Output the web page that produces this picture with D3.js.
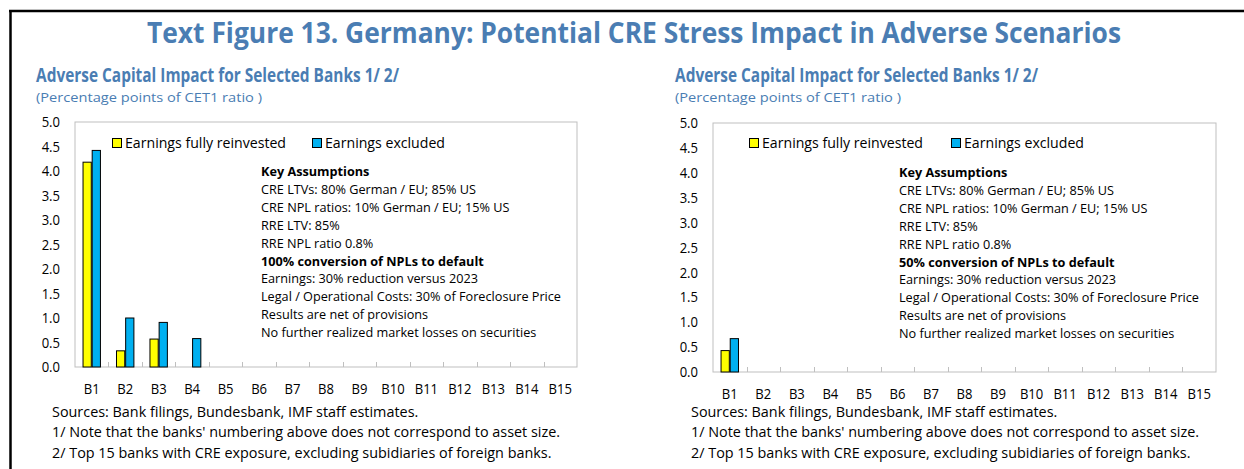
<!doctype html>
<html lang="en-US">
<head>
<meta charset="UTF-8">
<title>Text Figure 13</title>
<script src="https://cdn.jsdelivr.net/npm/d3@7"></script>
<style>
  body { margin:0; background:#fff; }
  svg text { font-family:"Open Sans", "Noto Sans", sans-serif; }
</style>
</head>
<body>
<div id="viz"></div>
<script type="text/javascript">

// data
var banks = ["B1","B2","B3","B4","B5","B6","B7","B8","B9","B10","B11","B12","B13","B14","B15"];
var seriesNames = ["Earnings fully reinvested", "Earnings excluded"];
var reinvested100 = [4.18, 0.33, 0.57, 0, 0, 0, 0, 0, 0, 0, 0, 0, 0, 0, 0];
var excluded100   = [4.42, 1.00, 0.91, 0.58, 0, 0, 0, 0, 0, 0, 0, 0, 0, 0, 0];
var reinvested50  = [0.43, 0, 0, 0, 0, 0, 0, 0, 0, 0, 0, 0, 0, 0, 0];
var excluded50    = [0.67, 0, 0, 0, 0, 0, 0, 0, 0, 0, 0, 0, 0, 0, 0];
var yTicks = [0, 0.5, 1, 1.5, 2, 2.5, 3, 3.5, 4, 4.5, 5];

var title = "Text Figure 13. Germany: Potential CRE Stress Impact in Adverse Scenarios";
var subTitle = "Adverse Capital Impact for Selected Banks 1/ 2/";
var unitText = "(Percentage points of CET1 ratio )";
var notes = ["Sources: Bank filings, Bundesbank, IMF staff estimates.",
  "1/ Note that the banks' numbering above does not correspond to asset size.",
  "2/ Top 15 banks with CRE exposure, excluding subidiaries of foreign banks."];
var assumptions100 = ["Key Assumptions", "CRE LTVs: 80% German / EU; 85% US",
  "CRE NPL ratios: 10% German / EU; 15% US", "RRE LTV: 85%", "RRE NPL ratio 0.8%",
  "100% conversion of NPLs to default", "Earnings: 30% reduction versus 2023",
  "Legal / Operational Costs: 30% of Foreclosure Price", "Results are net of provisions",
  "No further realized market losses on securities"];
var assumptions50 = assumptions100.slice();
assumptions50[5] = "50% conversion of NPLs to default";
var boldLines = [0, 5];

var blue = "#4a7db3";
var colors = ["#ffff00", "#00b0f0"];

var W = 1244, H = 469;
var svg = d3.select("#viz").append("svg").attr("width", W).attr("height", H);

// squeeze text horizontally so it takes the width Segoe would
function fitTo(sel, w) {
  sel.attr("textLength", w).attr("lengthAdjust", "spacingAndGlyphs");
}
function condense(sel, k) {
  sel.each(function() {
    var t = d3.select(this);
    t.attr("textLength", this.getComputedTextLength() * k).attr("lengthAdjust", "spacingAndGlyphs");
  });
}

// frame
svg.append("line").attr("x1", 9).attr("x2", W).attr("y1", 11).attr("y2", 11)
  .attr("stroke", "#000").attr("stroke-width", 2.5);
svg.append("line").attr("x1", 10.5).attr("x2", 10.5).attr("y1", 10).attr("y2", H)
  .attr("stroke", "#000").attr("stroke-width", 2.5);

var t = svg.append("text").attr("x", 147).attr("y", 43)
  .attr("font-size", 29).attr("font-weight", 700).attr("fill", blue).text(title);
fitTo(t, 974);

var panels = [
  { left: 75, right: 577, top: 122, bottom: 367, subX: 36, legY: 138, legX: [112, 312],
    keyX: 261, keyY: 176, noteX: 52, data: [reinvested100, excluded100], lines: assumptions100 },
  { left: 713, right: 1216, top: 123, bottom: 372, subX: 675, legY: 138, legX: [749, 951],
    keyX: 899, keyY: 177, noteX: 691, data: [reinvested50, excluded50], lines: assumptions50 }
];

panels.forEach(function(p) {
  var g = svg.append("g");

  var st = g.append("text").attr("x", p.subX).attr("y", 82)
    .attr("font-size", 19.5).attr("font-weight", 700).attr("fill", blue).text(subTitle);
  fitTo(st, 363);
  var ut = g.append("text").attr("x", p.subX).attr("y", 102)
    .attr("font-size", 13.5).attr("fill", blue).text(unitText);
  fitTo(ut, 226);

  var x = d3.scaleBand().domain(banks).range([p.left, p.right]).padding(0);
  var xs = d3.scaleBand().domain(seriesNames)
    .range([x.bandwidth() * 0.24, x.bandwidth() * 0.76]).paddingInner(0.1);
  var y = d3.scaleLinear().domain([0, 5]).range([p.bottom, p.top]);

  // plot frame
  g.append("rect").attr("x", p.left).attr("y", p.top)
    .attr("width", p.right - p.left).attr("height", p.bottom - p.top)
    .attr("fill", "none").attr("stroke", "#bfbfbf").attr("stroke-width", 1);

  // small ticks between banks
  g.selectAll("line.sep").data(banks.slice(1)).enter().append("line")
    .attr("class", "sep")
    .attr("x1", function(d) { return Math.round(x(d)) + 0.5; })
    .attr("x2", function(d) { return Math.round(x(d)) + 0.5; })
    .attr("y1", p.bottom).attr("y2", p.bottom - 5)
    .attr("stroke", "#bfbfbf");

  // bars
  seriesNames.forEach(function(s, si) {
    var vals = p.data[si];
    g.selectAll("rect.s" + si).data(vals.map(function(v, i) { return { b: banks[i], v: v }; })
        .filter(function(d) { return d.v > 0; }))
      .enter().append("rect").attr("class", "s" + si)
      .attr("x", function(d) { return x(d.b) + xs(s); })
      .attr("width", xs.bandwidth())
      .attr("y", function(d) { return y(d.v); })
      .attr("height", function(d) { return y(0) - y(d.v); })
      .attr("fill", colors[si]).attr("stroke", "#000").attr("stroke-width", 1);
  });

  // y axis labels
  var ya = g.append("g").attr("transform", "translate(" + p.left + ",0)")
    .call(d3.axisLeft(y).tickValues(yTicks).tickFormat(d3.format(".1f")).tickSize(0).tickPadding(15));
  ya.select(".domain").remove();
  ya.selectAll("text").attr("font-size", 14.5).attr("fill", "#000")
    .style("font-family", '"Open Sans", sans-serif');

  // x axis labels
  var xa = g.append("g").attr("transform", "translate(0," + p.bottom + ")")
    .call(d3.axisBottom(x).tickSize(0));
  xa.select(".domain").remove();
  xa.selectAll("text").attr("y", 26.5).attr("dy", 0).attr("font-size", 14.5).attr("fill", "#000")
    .style("font-family", '"Open Sans", sans-serif');
  condense(xa.selectAll("text"), 0.9);
  condense(ya.selectAll("text"), 0.9);

  // legend
  seriesNames.forEach(function(s, si) {
    g.append("rect").attr("x", p.legX[si] + 0.5).attr("y", p.legY + 0.5)
      .attr("width", 9).attr("height", 9)
      .attr("fill", colors[si]).attr("stroke", "#000").attr("stroke-width", 1);
    var lt = g.append("text").attr("x", p.legX[si] + 13).attr("y", p.legY + 10)
      .attr("font-size", 14.5).attr("fill", "#000").text(s);
    fitTo(lt, si == 0 ? 161 : 120);
  });

  // key assumptions
  var kt = g.selectAll("text.key").data(p.lines).enter().append("text")
    .attr("class", "key")
    .attr("x", p.keyX)
    .attr("y", function(d, i) { return p.keyY + i * 17.9; })
    .attr("font-size", 12.5)
    .attr("font-weight", function(d, i) { return boldLines.indexOf(i) >= 0 ? 700 : 400; })
    .attr("fill", "#000").text(function(d) { return d; });
  var ref = kt.filter(function(d, i) { return i == 7; }).node().getComputedTextLength();
  condense(kt, 300 / ref);

  // notes
  var nt = g.selectAll("text.note").data(notes).enter().append("text")
    .attr("class", "note")
    .attr("x", p.noteX)
    .attr("y", function(d, i) { return 416.5 + i * 20.5; })
    .attr("font-size", 14).attr("fill", "#000").text(function(d) { return d; });
  var nref = nt.filter(function(d, i) { return i == 1; }).node().getComputedTextLength();
  condense(nt, 508 / nref);
});

</script>
</body>
</html>
